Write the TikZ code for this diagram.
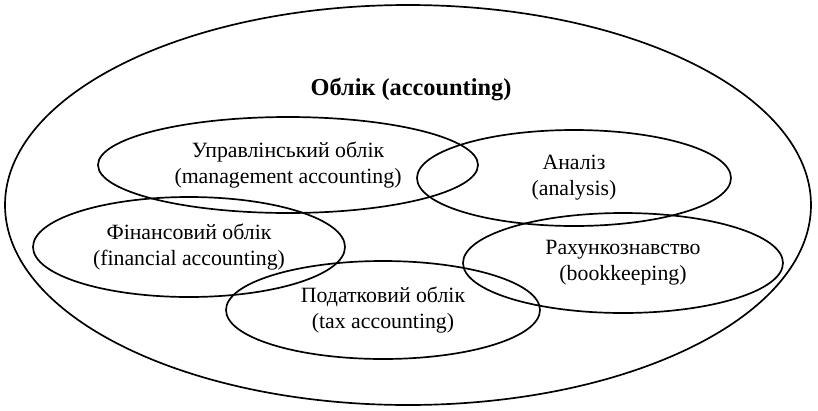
\documentclass[tikz,border=0pt]{standalone}
\usepackage{fontspec}
\setmainfont{Liberation Serif}
\usetikzlibrary{shapes.geometric}
\newcommand\pxu{0.025cm}
\tikzset{
  every node/.append style={font=\fontsize{15.5}{18.5}\selectfont},
  area/.style={ellipse,draw,line width=1.2pt,align=center,inner sep=0pt},
}

\begin{document}
\begin{tikzpicture}[x=\pxu,y=-\pxu]
  \useasboundingbox (0,0) rectangle (818,410);
  % whole field
  \node[area,minimum width=806*\pxu,minimum height=400*\pxu] (acc) at (408,205) {};
  \node[font=\fontsize{17.3}{20}\selectfont\bfseries] (title) at (411,89) {Облік (accounting)};
  % branches
  \node[area,minimum width=380*\pxu,minimum height=96*\pxu] (mgmt) at (288,165)
    {Управлінський облік\\(management accounting)};
  \node[area,minimum width=314*\pxu,minimum height=96*\pxu] (anal) at (574,178)
    {Аналіз\\(analysis)};
  \node[area,minimum width=312*\pxu,minimum height=100*\pxu] (fin) at (189,247)
    {Фінансовий облік\\(financial accounting)};
  \node[area,minimum width=320*\pxu,minimum height=100*\pxu] (book) at (623,263)
    {Рахункознавство\\(bookkeeping)};
  \node[area,minimum width=314*\pxu,minimum height=98*\pxu] (tax) at (383,310)
    {Податковий облік\\(tax accounting)};
\end{tikzpicture}
\end{document}
